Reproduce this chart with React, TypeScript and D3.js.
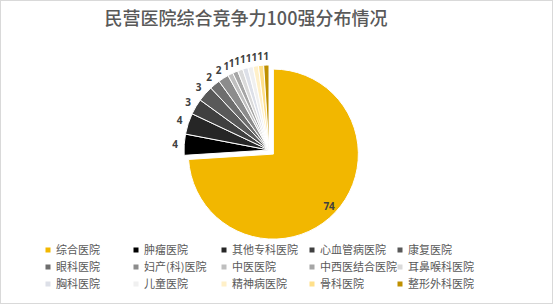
import React from "react";
import * as d3 from "d3";

const title = "民营医院综合竞争力100强分布情况";
const categories = ["综合医院", "肿瘤医院", "其他专科医院", "心血管病医院", "康复医院", "眼科医院", "妇产(科)医院", "中医医院", "中西医结合医院", "耳鼻喉科医院", "胸科医院", "儿童医院", "精神病医院", "骨科医院", "整形外科医院"];
const values = [74, 4, 4, 3, 3, 2, 2, 1, 1, 1, 1, 1, 1, 1, 1];
const colors = ["#F2B700", "#000000", "#262626", "#404040", "#595959", "#6e6e6e", "#8c8c8c", "#bfbfbf", "#a6a6a6", "#dadada", "#dde0e8", "#f0f0f0", "#fff0c8", "#ffe08a", "#bf9000"];

const W = 553, H = 304;
const cx = 269, cy = 150, r = 85;

export default function App() {
  const data = categories.map((c, i) => ({ c, v: values[i], color: colors[i] }));
  const pie = d3.pie<any>().value((d: any) => d.v).sort(null);
  const arcs = pie(data);
  const arc = d3.arc<any>().innerRadius(0).outerRadius(r);
  const legendX = d3.scalePoint<number>().domain([0, 1, 2, 3, 4]).range([48, 400]);
  const legendY = d3.scalePoint<number>().domain([0, 1, 2]).range([250, 284]);
  return (
    <svg width={W} height={H} style={{ position: "absolute", left: 0, top: 0, background: "#fff" }} fontFamily="'Noto Sans CJK SC', 'Noto Sans', sans-serif">
      <rect x={0.5} y={0.5} width={W - 1} height={H - 1} fill="#fff" stroke="#d9d9d9" />
      <text x={246} y={25} textAnchor="middle" fontSize={18} fontWeight={500} fill="#595959">{title}</text>
      <g>
        {arcs.map((a, i) => {
          const mid = (a.startAngle + a.endAngle) / 2;
          const ex = i === 0 ? 6 : 0;
          const dx = Math.sin(mid) * ex, dy = -Math.cos(mid) * ex;
          return (
            <path key={i} d={arc(a) as string} transform={`translate(${cx + dx},${cy + dy})`} fill={a.data.color} stroke="#fff" strokeWidth={1} />
          );
        })}
        {arcs.map((a, i) => {
          const mid = (a.startAngle + a.endAngle) / 2;
          let x, y;
          if (i === 0) {
            const ex = 6, R = r * 0.9;
            x = cx + Math.sin(mid) * (ex + R);
            y = cy - Math.cos(mid) * (ex + R);
          } else {
            const R = r + 9;
            x = cx + Math.sin(mid) * R;
            y = cy - Math.cos(mid) * R;
          }
          return (
            <text key={i} x={x} y={y} dy="0.35em" textAnchor="middle" fontSize={10} fontWeight="bold" fill="#404040" fontFamily="'Open Sans', 'Noto Sans', sans-serif">{a.data.v}</text>
          );
        })}
      </g>
      <g>
        {data.map((d, i) => {
          const col = i % 5, row = Math.floor(i / 5);
          const x = legendX(col) as number, y = legendY(row) as number;
          return (
            <g key={i} transform={`translate(${x},${y})`}>
              <rect x={-2.5} y={-2.5} width={5} height={5} fill={d.color} />
              <text x={8} y={0} dy="0.35em" fontSize={11} fill="#595959">{d.c}</text>
            </g>
          );
        })}
      </g>
    </svg>
  );
}
